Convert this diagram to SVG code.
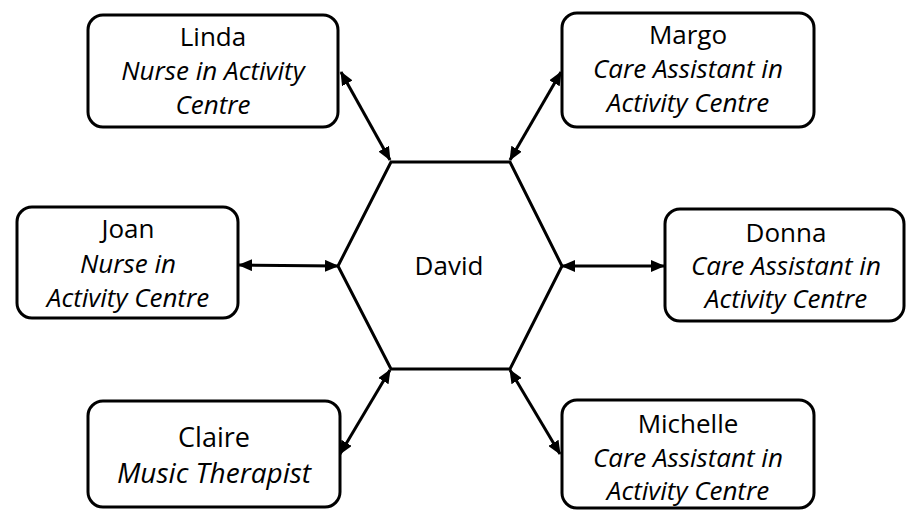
<svg xmlns="http://www.w3.org/2000/svg" width="907" height="511" viewBox="0 0 907 511">
<style>
.box{fill:#fff;stroke:#000;stroke-width:3}
.hex{fill:#fff;stroke:#000;stroke-width:3;stroke-linejoin:miter}
.t{font-family:"Open Sans","Noto Sans",sans-serif;font-size:26px;fill:#000;text-anchor:middle}
.i{font-style:italic}
.c{stroke:#000;stroke-width:3;fill:none;marker-start:url(#a);marker-end:url(#a)}
</style>
<defs>
<marker id="a" viewBox="0 0 14 12" refX="13" refY="6" markerWidth="14" markerHeight="12" markerUnits="userSpaceOnUse" orient="auto-start-reverse">
<path d="M0,0 L14,6 L0,12 z" fill="#000"/>
</marker>
</defs>
<g id="connectors">
<line class="c" x1="341" y1="72" x2="390" y2="160"/>
<line class="c" x1="561" y1="72" x2="510" y2="160"/>
<line class="c" x1="239" y1="265" x2="338" y2="266"/>
<line class="c" x1="562" y1="266" x2="664" y2="266"/>
<line class="c" x1="340" y1="454" x2="390" y2="370"/>
<line class="c" x1="510" y1="370" x2="560" y2="454"/>
</g>
<g id="david">
<polygon class="hex" points="391,162 510,162 562,266 510,369 391,369 338,266"/>
<text class="t" x="449" y="275">David</text>
</g>
<g id="linda">
<rect class="box" x="88" y="15" width="250" height="112" rx="15"/>
<text class="t" x="213" y="46">Linda</text>
<text class="t i" x="213" y="80">Nurse in Activity</text>
<text class="t i" x="213" y="114">Centre</text>
</g>
<g id="margo">
<rect class="box" x="562" y="13" width="252" height="114" rx="15"/>
<text class="t" x="688" y="44">Margo</text>
<text class="t i" x="688" y="78">Care Assistant in</text>
<text class="t i" x="688" y="112">Activity Centre</text>
</g>
<g id="joan">
<rect class="box" x="17" y="207" width="221" height="111" rx="15"/>
<text class="t" x="128" y="238">Joan</text>
<text class="t i" x="128" y="273">Nurse in</text>
<text class="t i" x="128" y="307">Activity Centre</text>
</g>
<g id="donna">
<rect class="box" x="665" y="209" width="239" height="112" rx="15"/>
<text class="t" x="786" y="242">Donna</text>
<text class="t i" x="786" y="275">Care Assistant in</text>
<text class="t i" x="786" y="308">Activity Centre</text>
</g>
<g id="claire">
<rect class="box" x="88" y="401" width="252" height="106" rx="15"/>
<text class="t" x="214" y="447" style="font-size:27px">Claire</text>
<text class="t i" x="214" y="483" style="font-size:28px">Music Therapist</text>
</g>
<g id="michelle">
<rect class="box" x="562" y="400" width="252" height="108" rx="15"/>
<text class="t" x="688" y="433">Michelle</text>
<text class="t i" x="688" y="467">Care Assistant in</text>
<text class="t i" x="688" y="500">Activity Centre</text>
</g>
</svg>
